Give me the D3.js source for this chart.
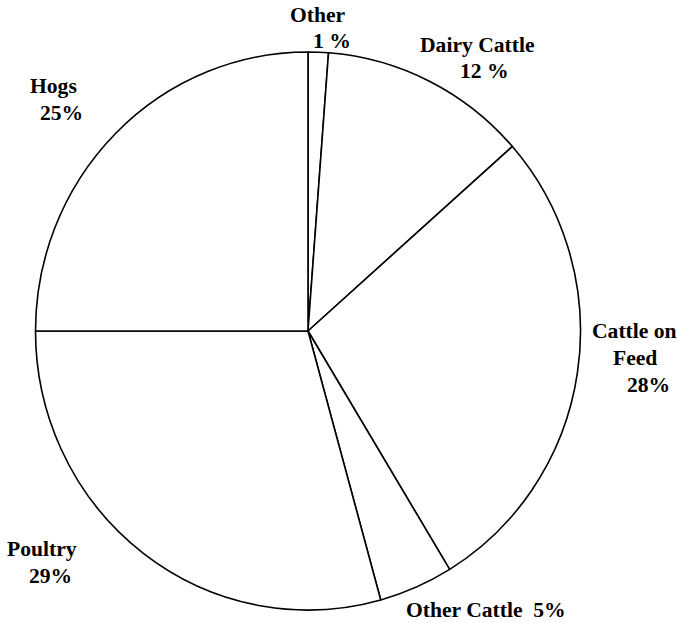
<!DOCTYPE html>
<html>
<head>
<meta charset="utf-8">
<script src="https://cdn.jsdelivr.net/npm/d3@7"></script>
<style>
  html, body { margin: 0; padding: 0; background: #fff; }
</style>
</head>
<body>
<svg id="chart" width="677" height="623"></svg>
<script>
// Data (clockwise from 12 o'clock)
const categories = ["Other", "Dairy Cattle", "Cattle on Feed", "Other Cattle", "Poultry", "Hogs"];
const values = [1.2, 12.3, 27.8, 4.4, 29.3, 25.0];
const labelLines = [
  ["Other", "1 %"],
  ["Dairy Cattle", "12 %"],
  ["Cattle on", "Feed", "28%"],
  ["Other Cattle  5%"],
  ["Poultry", "29%"],
  ["Hogs", "25%"]
];

// Layout (positions of label lines: left x, baseline y)
const labelLayout = [
  [[290, 22], [313, 48]],
  [[420, 52], [460, 78]],
  [[592, 338], [613, 365], [627, 392]],
  [[406, 617]],
  [[7, 556], [29, 583]],
  [[30, 93], [40, 120]]
];

const svg = d3.select("#chart");
const cx = 308, cy = 331, r = 272.5, yStretch = 1.024;

const data = categories.map((c, i) => ({ category: c, value: values[i] }));
const pie = d3.pie().sort(null).value(d => d.value).startAngle(0).endAngle(2 * Math.PI);
const arc = d3.arc().innerRadius(0).outerRadius(r);

const g = svg.append("g").attr("transform", `translate(${cx},${cy}) scale(1,${yStretch})`);
g.selectAll("path")
  .data(pie(data))
  .join("path")
  .attr("d", arc)
  .attr("fill", "#fff")
  .attr("stroke", "#000")
  .attr("stroke-width", 1.6)
  .attr("stroke-linejoin", "round")
  .attr("vector-effect", "non-scaling-stroke");

const lbl = svg.append("g")
  .attr("font-family", "'Liberation Serif', 'Times New Roman', Tinos, 'DejaVu Serif', serif")
  .attr("font-weight", "bold")
  .attr("font-size", 21.6)
  .attr("fill", "#000");
labelLines.forEach((lines, i) => {
  lines.forEach((t, j) => {
    lbl.append("text")
      .attr("x", labelLayout[i][j][0])
      .attr("y", labelLayout[i][j][1])
      .attr("xml:space", "preserve")
      .style("white-space", "pre")
      .text(t);
  });
});
</script>
</body>
</html>
